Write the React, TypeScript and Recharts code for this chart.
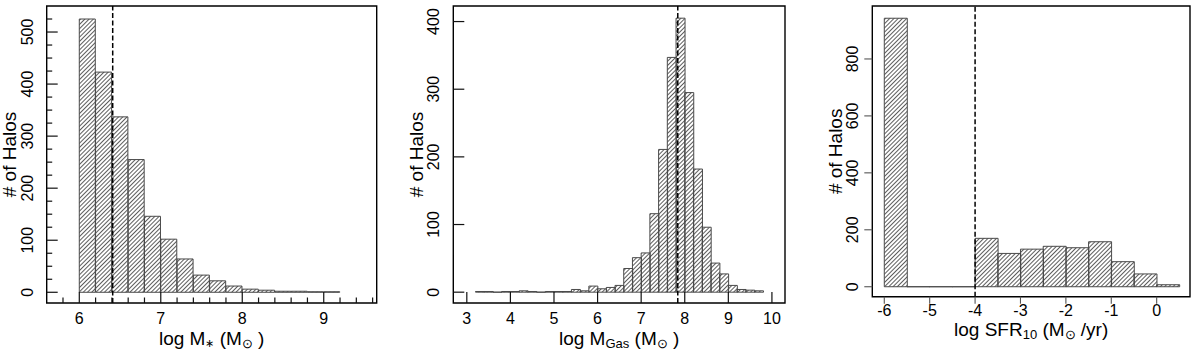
import React from 'react';
import { ComposedChart, Bar, XAxis, YAxis, ReferenceLine, ReferenceArea } from 'recharts';

const FONT = '"Liberation Sans", Arial, Helvetica, sans-serif';
const TICK_FONT = 16;

// ---------- Panel 1: stellar mass ----------
const stellarBinStarts = [6.0, 6.2, 6.4, 6.6, 6.8, 7.0, 7.2, 7.4, 7.6, 7.8, 8.0, 8.2, 8.4, 8.6, 8.8, 9.0];
const stellarCounts = [525, 423, 337, 255, 146, 102, 64, 33, 22, 12, 6, 4, 2, 2, 1, 1];
const stellarBinWidth = 0.2;
const stellarMedian = 6.41;
const stellarXTicks = [6, 7, 8, 9];
const stellarXTickLabels = ['6', '7', '8', '9'];
const stellarXMinorTicks = [5.8, 6.2, 6.4, 6.6, 6.8, 7.2, 7.4, 7.6, 7.8, 8.2, 8.4, 8.6, 8.8, 9.2, 9.4, 9.6];
const stellarYTicks = [0, 100, 200, 300, 400, 500];
const stellarYTickLabels = ['0', '100', '200', '300', '400', '500'];
const stellarYMinorTicks = [25, 50, 75, 125, 150, 175, 225, 250, 275, 325, 350, 375, 425, 450, 475, 525];

// ---------- Panel 2: gas mass ----------
const gasBinStarts = [3.2, 3.4, 3.6, 3.8, 4.0, 4.2, 4.4, 4.6, 4.8, 5.0, 5.2, 5.4, 5.6, 5.8, 6.0, 6.2, 6.4, 6.6, 6.8, 7.0, 7.2, 7.4, 7.6, 7.8, 8.0, 8.2, 8.4, 8.6, 8.8, 9.0, 9.2, 9.4, 9.6];
const gasCounts = [1, 1, 0, 1, 1, 2, 1, 0, 1, 1, 1, 4, 2, 9, 5, 7, 10, 35, 51, 58, 116, 211, 347, 405, 295, 182, 96, 43, 27, 10, 4, 3, 2];
const gasBinWidth = 0.2;
const gasMedian = 7.84;
const gasXTicks = [3, 4, 5, 6, 7, 8, 9, 10];
const gasXTickLabels = ['3', '4', '5', '6', '7', '8', '9', '10'];
const gasYTicks = [0, 100, 200, 300, 400];
const gasYTickLabels = ['0', '100', '200', '300', '400'];

// ---------- Panel 3: SFR ----------
const sfrBinStarts = [-6, -5.5, -5, -4.5, -4, -3.5, -3, -2.5, -2, -1.5, -1, -0.5, 0];
const sfrCounts = [943, 0, 0, 0, 170, 117, 132, 142, 137, 158, 88, 45, 7];
const sfrBinWidth = 0.5;
const sfrCut = -4;
const sfrXTicks = [-6, -5, -4, -3, -2, -1, 0];
const sfrXTickLabels = ['-6', '-5', '-4', '-3', '-2', '-1', '0'];
const sfrYTicks = [0, 200, 400, 600, 800];
const sfrYTickLabels = ['0', '200', '400', '600', '800'];

const yTitleText = '# of Halos';

type Cfg = {
  left: number;
  width: number;
  top: number;
  right: number;
  axisH: number;
  axisW: number;
  starts: number[];
  counts: number[];
  binWidth: number;
  xDomain: [number, number];
  yDomain: [number, number];
  xMajor: number[];
  xLabels: string[];
  xMinor: number[];
  yMajor: number[];
  yLabels: string[];
  yMinor: number[];
  inside: boolean;
  median: number;
  tickLabelDy: number;
  titleDy: number;
  yLabelOffset: number;
  yTitleOffset: number;
  title: 'stellar' | 'gas' | 'sfr';
};

const HatchBar = (props: any) => {
  const { x, y, width, height } = props;
  if (x == null || y == null || width == null || height == null) return null;
  const d = `M${x},${y + height}L${x},${y}L${x + width},${y}L${x + width},${y + height}Z`;
  return <path d={d} fill="url(#hatch)" stroke="#4a4a4a" strokeWidth={1} />;
};

const findLabel = (vals: number[], labels: string[], v: number) => {
  const i = vals.findIndex((m) => Math.abs(m - v) < 1e-9);
  return i >= 0 ? labels[i] : null;
};

const XTick = (props: any) => {
  const { x, y, payload, cfg } = props;
  const c: Cfg = cfg;
  const v = payload.value;
  const label = findLabel(c.xMajor, c.xLabels, v);
  const isMajor = label !== null;
  let line;
  if (c.inside) {
    const len = isMajor ? 11 : 5.5;
    line = <line x1={x} x2={x} y1={y} y2={y - len} stroke="#111" strokeWidth={1.2} />;
  } else {
    line = <line x1={x} x2={x} y1={y} y2={y + 7} stroke="#555" strokeWidth={1.1} />;
  }
  return (
    <g>
      {line}
      {isMajor && (
        <text x={x} y={y + c.tickLabelDy} textAnchor="middle" fontSize={TICK_FONT} fontFamily={FONT} fill="#000">
          {label}
        </text>
      )}
    </g>
  );
};

const YTick = (props: any) => {
  const { x, y, payload, cfg } = props;
  const c: Cfg = cfg;
  const v = payload.value;
  const label = findLabel(c.yMajor, c.yLabels, v);
  const isMajor = label !== null;
  let line;
  if (c.inside) {
    const len = isMajor ? 11 : 5.5;
    line = <line x1={x} x2={x + len} y1={y} y2={y} stroke="#111" strokeWidth={1.2} />;
  } else {
    line = <line x1={x} x2={x - 8} y1={y} y2={y} stroke="#555" strokeWidth={1.1} />;
  }
  return (
    <g>
      {line}
      {isMajor && (
        <text
          transform={`translate(${x - c.yLabelOffset},${y}) rotate(-90)`}
          textAnchor="middle"
          fontSize={TICK_FONT}
          fontFamily={FONT}
          fill="#000"
        >
          {label}
        </text>
      )}
    </g>
  );
};

const XTitle = (props: any) => {
  const { viewBox, cfg } = props;
  const c: Cfg = cfg;
  if (!viewBox) return null;
  const cx = viewBox.x + viewBox.width / 2;
  const cy = viewBox.y + c.titleDy;
  let content;
  if (c.title === 'stellar') {
    content = (
      <>
        log M<tspan fontSize={11} dy={2}>∗</tspan>
        <tspan dy={-2}> (M</tspan>
        <tspan fontSize={13} dy={3}>⊙</tspan>
        <tspan dy={-3}> )</tspan>
      </>
    );
  } else if (c.title === 'gas') {
    content = (
      <>
        log M<tspan fontSize={13} dy={3}>Gas</tspan>
        <tspan dy={-3}> (M</tspan>
        <tspan fontSize={13} dy={3}>⊙</tspan>
        <tspan dy={-3}> )</tspan>
      </>
    );
  } else {
    content = (
      <>
        log SFR<tspan fontSize={13} dy={3}>10</tspan>
        <tspan dy={-3}> (M</tspan>
        <tspan fontSize={13} dy={3}>⊙</tspan>
        <tspan dy={-3}> /yr)</tspan>
      </>
    );
  }
  return (
    <text x={cx} y={cy} textAnchor="middle" fontSize={19} fontFamily={FONT} fill="#000">
      {content}
    </text>
  );
};

const YTitle = (props: any) => {
  const { viewBox, cfg } = props;
  const c: Cfg = cfg;
  if (!viewBox) return null;
  const tx = viewBox.x + viewBox.width - c.yTitleOffset;
  const ty = viewBox.y + viewBox.height / 2;
  return (
    <text transform={`translate(${tx},${ty}) rotate(-90)`} textAnchor="middle" fontSize={19} fontFamily={FONT} fill="#000">
      {yTitleText}
    </text>
  );
};

const Panel = ({ cfg }: { cfg: Cfg }) => {
  const data = cfg.starts.map((s, i) => ({ mid: s + cfg.binWidth / 2, count: cfg.counts[i] }));
  const xTicks = [...cfg.xMajor, ...cfg.xMinor].sort((a, b) => a - b);
  const yTicks = [...cfg.yMajor, ...cfg.yMinor].sort((a, b) => a - b);
  return (
    <div style={{ position: 'absolute', left: cfg.left, top: 0 }}>
      <ComposedChart
        width={cfg.width}
        height={352}
        data={data}
        margin={{ top: cfg.top, right: cfg.right, bottom: 0, left: 0 }}
        barCategoryGap={0}
        barGap={0}
      >
        <XAxis
          dataKey="mid"
          type="number"
          domain={cfg.xDomain}
          allowDataOverflow
          ticks={xTicks}
          interval={0}
          height={cfg.axisH}
          tickSize={0}
          tickMargin={0}
          axisLine={false}
          tickLine={false}
          tick={(p: any) => <XTick {...p} cfg={cfg} />}
          label={<XTitle cfg={cfg} />}
        />
        <YAxis
          type="number"
          domain={cfg.yDomain}
          allowDataOverflow
          ticks={yTicks}
          interval={0}
          width={cfg.axisW}
          tickSize={0}
          tickMargin={0}
          axisLine={false}
          tickLine={false}
          tick={(p: any) => <YTick {...p} cfg={cfg} />}
          label={<YTitle cfg={cfg} />}
        />
        <Bar dataKey="count" shape={HatchBar} isAnimationActive={false} />
        <ReferenceLine x={cfg.median} stroke="#000" strokeWidth={1.5} strokeDasharray="5 2.5" />
        <ReferenceArea
          x1={cfg.xDomain[0]}
          x2={cfg.xDomain[1]}
          y1={cfg.yDomain[0]}
          y2={cfg.yDomain[1]}
          fill="none"
          fillOpacity={0}
          stroke="#000"
          strokeWidth={1.4}
          ifOverflow="visible"
        />
      </ComposedChart>
    </div>
  );
};

const cfgStellar: Cfg = {
  left: 0,
  width: 400,
  top: 6,
  right: 23.3,
  axisH: 49,
  axisW: 46.7,
  starts: stellarBinStarts,
  counts: stellarCounts,
  binWidth: stellarBinWidth,
  xDomain: [5.6, 9.65],
  yDomain: [-20.6, 550],
  xMajor: stellarXTicks,
  xLabels: stellarXTickLabels,
  xMinor: stellarXMinorTicks,
  yMajor: stellarYTicks,
  yLabels: stellarYTickLabels,
  yMinor: stellarYMinorTicks,
  inside: true,
  median: stellarMedian,
  tickLabelDy: 21,
  titleDy: 41.5,
  yLabelOffset: 13.7,
  yTitleOffset: 30.7,
  title: 'stellar',
};

const cfgGas: Cfg = {
  left: 400,
  width: 400,
  top: 6,
  right: 15,
  axisH: 49,
  axisW: 53.3,
  starts: gasBinStarts,
  counts: gasCounts,
  binWidth: gasBinWidth,
  xDomain: [2.69, 10.3],
  yDomain: [-16, 423],
  xMajor: gasXTicks,
  xLabels: gasXTickLabels,
  xMinor: [],
  yMajor: gasYTicks,
  yLabels: gasYTickLabels,
  yMinor: [],
  inside: true,
  median: gasMedian,
  tickLabelDy: 21,
  titleDy: 41.5,
  yLabelOffset: 14.8,
  yTitleOffset: 30,
  title: 'gas',
};

const cfgSfr: Cfg = {
  left: 800,
  width: 400,
  top: 6,
  right: 10,
  axisH: 55.3,
  axisW: 72.3,
  starts: sfrBinStarts,
  counts: sfrCounts,
  binWidth: sfrBinWidth,
  xDomain: [-6.264, 0.734],
  yDomain: [-35, 986],
  xMajor: sfrXTicks,
  xLabels: sfrXTickLabels,
  xMinor: [],
  yMajor: sfrYTicks,
  yLabels: sfrYTickLabels,
  yMinor: [],
  inside: false,
  median: sfrCut,
  tickLabelDy: 19.6,
  titleDy: 39.5,
  yLabelOffset: 14,
  yTitleOffset: 30.6,
  title: 'sfr',
};

export default function App() {
  return (
    <div style={{ position: 'absolute', left: 0, top: 0, width: 1200, height: 352, background: '#fff' }}>
      <svg width={0} height={0} style={{ position: 'absolute' }}>
        <defs>
          <pattern id="hatch" patternUnits="userSpaceOnUse" width={3} height={10} patternTransform="rotate(45)">
            <line x1={1.5} y1={0} x2={1.5} y2={10} stroke="#333" strokeWidth={0.8} />
          </pattern>
        </defs>
      </svg>
      <Panel cfg={cfgStellar} />
      <Panel cfg={cfgGas} />
      <Panel cfg={cfgSfr} />
    </div>
  );
}
